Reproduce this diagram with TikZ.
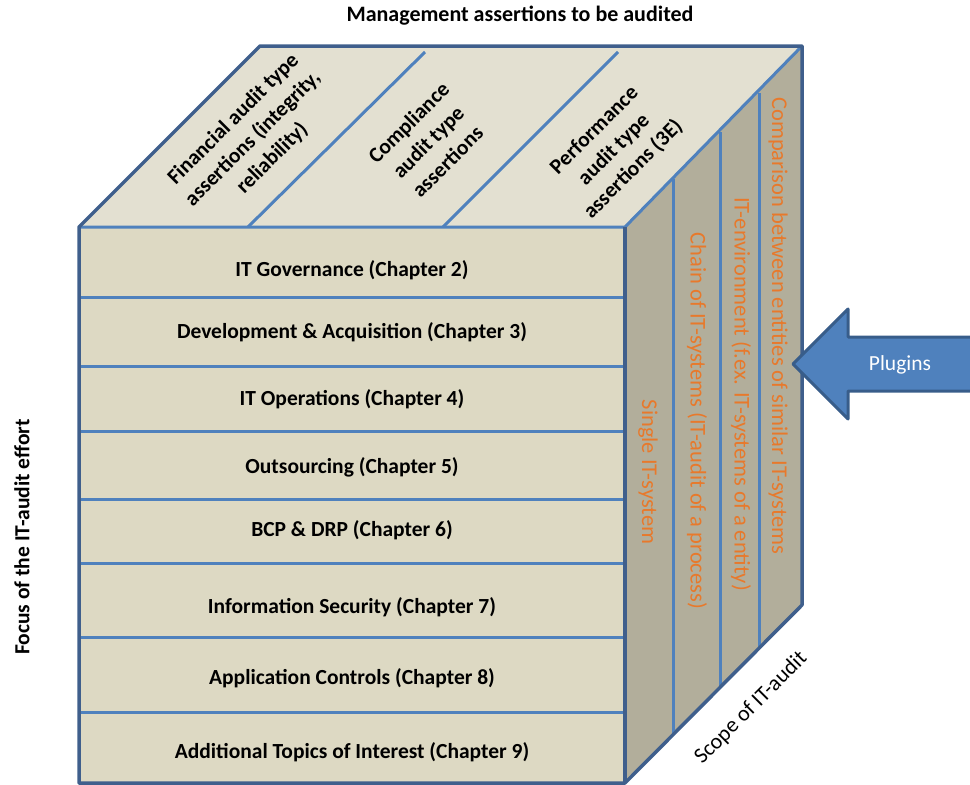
\documentclass[tikz,border=0pt]{standalone}
\usepackage{fontspec}
\setmainfont{Carlito}
\usepackage{tikz}
\usetikzlibrary{calc}
\definecolor{frontfill}{HTML}{DDD9C3}
\definecolor{topfill}{HTML}{E3E0D1}
\definecolor{sidefill}{HTML}{B2AE9B}
\definecolor{edgeblue}{HTML}{3F5F8C}
\definecolor{lineblue}{HTML}{4F81BD}
\definecolor{scopeorange}{HTML}{E8792B}
\definecolor{arrowedge}{HTML}{385D8A}
\tikzset{
  edge/.style={draw=edgeblue, line width=3.5pt, line join=round},
  divider/.style={draw=lineblue, line width=3pt},
  rowtext/.style={font=\fontsize{21.5}{25}\selectfont\bfseries, inner sep=0pt},
  toptext/.style={font=\fontsize{21.5}{27.5}\selectfont\bfseries, align=center, rotate=45, inner sep=0pt},
  scopetext/.style={font=\fontsize{22.5}{26}\selectfont, text=scopeorange, rotate=-90, inner sep=0pt},
}
\newcommand{\rowline}[1]{\draw[divider] (79,#1) -- (625,#1);}
\newcommand{\rowlabel}[3]{\node[rowtext] (#1) at (352,#2) {#3};}
\newcommand{\scopeline}[1]{\draw[divider] (#1,{227-(#1-625)}) -- (#1,{783-(#1-625)});}
\newcommand{\scopelabel}[4]{\node[scopetext] (#1) at (#2,#3) {#4};}

\begin{document}
\begin{tikzpicture}[x=1pt,y=-1pt]
        \useasboundingbox (0,0) rectangle (970,785);
        % faces
        \fill[topfill] (79,227) -- (260,46) -- (802,46) -- (625,227) -- cycle;
        \fill[frontfill] (79,227) rectangle (625,783);
        \fill[sidefill] (625,227) -- (802,46) -- (802,605) -- (625,783) -- cycle;

        % front face rows
        \rowline{297}
        \rowline{366}
        \rowline{431}
        \rowline{499}
        \rowline{563}
        \rowline{637}
        \rowline{712}

        % top face
        \draw[divider] (248,227) -- (425,52);
        \draw[divider] (443,227) -- (618,52);

        % side face
        \scopeline{673}
        \scopeline{720}
        \scopeline{759}

        % edges
        \draw[divider] (79,227) -- (625,227) -- (802,46);
        \draw[edge] (79,227) -- (260,46) -- (802,46) -- (802,605) -- (625,783) -- (79,783) -- cycle;
        \draw[edge] (625,227) -- (625,783);

        % row labels
        \rowlabel{gov}{270}{IT Governance (Chapter 2)}
        \rowlabel{dev}{332}{Development \& Acquisition (Chapter 3)}
        \rowlabel{ops}{399}{IT Operations (Chapter 4)}
        \rowlabel{outs}{467}{Outsourcing (Chapter 5)}
        \rowlabel{bcp}{530}{BCP \& DRP (Chapter 6)}
        \rowlabel{sec}{607}{Information Security (Chapter 7)}
        \rowlabel{app}{678}{Application Controls (Chapter 8)}
        \rowlabel{add}{752}{Additional Topics of Interest (Chapter 9)}

        % assertion labels
        \node[toptext] (fin) at (253,139) {Financial audit type\\assertions (integrity,\\reliability)};
        \node[toptext] (comp) at (428,142) {Compliance\\audit type\\assertions};
        \node[toptext] (perf) at (614,150) {Performance\\audit type\\assertions (3E)};

        % scope labels
        \scopelabel{single}{648}{472}{Single IT-system}
        \scopelabel{chain}{697}{421}{Chain of IT-systems (IT-audit of a process)}
        \scopelabel{env}{741}{394}{IT-environment (f.ex. IT-systems of a entity)}
        \scopelabel{compare}{778}{326}{Comparison between entities of similar IT-systems}

        % axis titles
        \node[font=\fontsize{22}{24}\selectfont\bfseries] (title) at (520,16) {Management assertions to be audited};
        \node[font=\fontsize{21.5}{24}\selectfont\bfseries, rotate=90] (focus) at (22,537) {Focus of the IT-audit effort};
        \node[font=\fontsize{22}{24}\selectfont, rotate=45] (scope) at (751,708) {Scope of IT-audit};

        % plugins arrow
        \filldraw[fill=lineblue, draw=arrowedge, line width=3pt, line join=round]
          (793,364) -- (848,309) -- (848,337) -- (985,337) -- (985,391) -- (848,391) -- (848,419) -- cycle;
        \node[font=\fontsize{21.5}{24}\selectfont, text=white] (plugins) at (900,365) {Plugins};
\end{tikzpicture}
\end{document}
